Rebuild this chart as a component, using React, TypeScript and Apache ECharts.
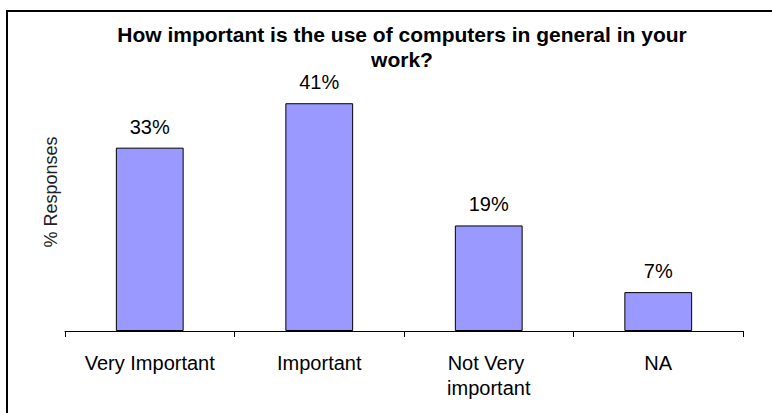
import React, { useEffect, useRef } from "react";
import * as echarts from "echarts";

const titleText = "How important is the use of computers in general in your\nwork?";
const categories = ["Very Important", "Important", "Not Very important", "NA"];
const responses = [33, 41, 19, 7];
const yAxisName = "% Responses";

const FONT = "'Liberation Sans', Arial, sans-serif";

export default function App() {
  const ref = useRef<HTMLDivElement>(null);
  useEffect(() => {
    if (!ref.current) return;
    const chart = echarts.init(ref.current, null, { renderer: "svg" });
    chart.setOption({
      animation: false,
      backgroundColor: "#ffffff",
      title: {
        text: titleText,
        left: 402,
        top: 22,
        padding: 0,
        textAlign: "center",
        textStyle: {
          fontFamily: FONT,
          fontSize: 21,
          fontWeight: "bold",
          color: "#000",
          lineHeight: 25,
        },
      },
      graphic: [
        {
          type: "rect",
          shape: { x: 7, y: 11, width: 820, height: 460 },
          style: { fill: "none", stroke: "#000", lineWidth: 2 },
          silent: true,
          z: 100,
        },
        {
          type: "text",
          x: 51,
          y: 192,
          rotation: Math.PI / 2,
          style: {
            text: yAxisName,
            fontFamily: FONT,
            fontSize: 18,
            fill: "#222",
            align: "center",
            verticalAlign: "middle",
          },
        },
      ],
      grid: { left: 65, right: 29, top: 81, bottom: 82 },
      xAxis: {
        type: "category",
        data: categories,
        axisLine: { show: true, lineStyle: { color: "#000", width: 1 } },
        axisTick: { show: true, length: 6, lineStyle: { color: "#000" } },
        axisLabel: {
          margin: 19,
          color: "#000",
          fontFamily: FONT,
          fontSize: 20,
          lineHeight: 25,
          width: 150,
          overflow: "break",
          interval: 0,
        },
      },
      yAxis: {
        type: "value",
        min: 0,
        max: 45,
        show: false,
        splitLine: { show: false },
      },
      series: [
        {
          type: "bar",
          data: responses,
          barWidth: "40%",
          itemStyle: { color: "#9999FF", borderColor: "#000", borderWidth: 1 },
          label: {
            show: true,
            position: "top",
            distance: 11,
            formatter: "{c}%",
            color: "#000",
            fontFamily: FONT,
            fontSize: 20,
          },
        },
      ],
    });
    return () => chart.dispose();
  }, []);
  return <div ref={ref} style={{ width: 772, height: 413, position: "absolute", left: 0, top: 0 }} />;
}
